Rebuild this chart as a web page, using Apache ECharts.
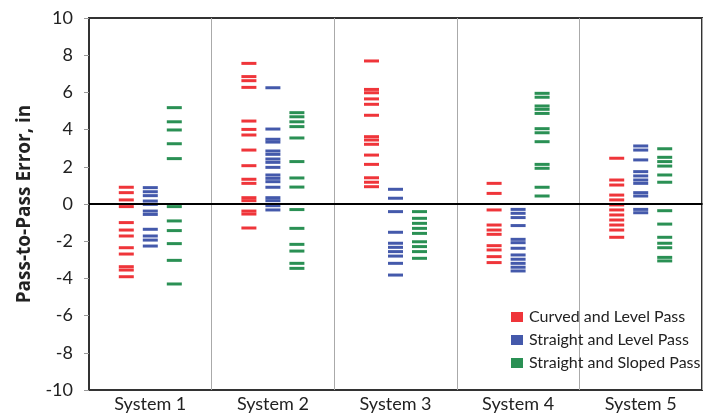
<!DOCTYPE html>
<html>
<head>
<meta charset="utf-8">
<script src="https://cdn.jsdelivr.net/npm/echarts@6/dist/echarts.min.js"></script>
<style>
html,body{margin:0;padding:0;background:#fff;}
#c{width:706px;height:415px;}
</style>
</head>
<body>
<div id="c"></div>
<script>
var categories = ['System 1', 'System 2', 'System 3', 'System 4', 'System 5'];
var seriesNames = ['Curved and Level Pass', 'Straight and Level Pass', 'Straight and Sloped Pass'];
var yTicks = [-10, -8, -6, -4, -2, 0, 2, 4, 6, 8, 10];

var curvedLevel = [
  [0.9, 0.61, 0.22, -0.14, -1.0, -1.4, -1.72, -2.35, -2.69, -3.37, -3.55, -3.91],
  [7.56, 6.85, 6.63, 6.27, 4.46, 4.01, 3.71, 2.9, 2.06, 1.33, 1.11, 0.34, 0.18, -0.38, -0.54, -1.29],
  [7.69, 6.16, 5.98, 5.65, 5.36, 4.77, 3.62, 3.44, 3.21, 2.63, 2.13, 1.41, 1.17, 0.93],
  [1.11, 0.57, -0.32, -1.13, -1.4, -1.63, -2.24, -2.47, -2.83, -3.15],
  [2.46, 1.29, 1.02, 0.48, 0.22, -0.05, -0.32, -0.59, -0.86, -1.13, -1.4, -1.79]
];
var straightLevel = [
  [0.88, 0.66, 0.45, 0.16, -0.02, -0.38, -0.56, -1.36, -1.72, -1.94, -2.26],
  [6.25, 4.03, 3.48, 3.33, 2.85, 2.67, 2.42, 2.24, 1.97, 1.56, 1.38, 1.2, 0.9, 0.34, 0.18, -0.09, -0.32],
  [0.79, 0.31, -0.41, -1.52, -2.11, -2.33, -2.56, -2.8, -3.19, -3.82],
  [-0.29, -0.5, -0.73, -1.16, -1.9, -2.08, -2.38, -2.74, -2.97, -3.19, -3.4, -3.6],
  [3.12, 2.9, 2.37, 1.74, 1.51, 1.29, 1.11, 0.61, 0.43, -0.29, -0.47]
];
var straightSloped = [
  [5.18, 4.42, 3.98, 3.24, 2.44, -0.14, -0.91, -1.43, -2.13, -3.03, -4.3],
  [4.91, 4.69, 4.42, 4.16, 3.55, 2.28, 1.4, 0.91, -0.3, -1.31, -2.17, -2.53, -3.19, -3.46],
  [-0.41, -0.77, -1.04, -1.31, -1.58, -2.03, -2.29, -2.56, -2.92],
  [5.95, 5.74, 5.27, 5.09, 4.87, 4.05, 3.83, 3.35, 2.13, 1.92, 0.9, 0.43],
  [2.97, 2.51, 2.28, 2.04, 1.56, 1.17, -0.36, -1.08, -1.79, -2.11, -2.35, -2.87, -3.06]
];

var allValues = [curvedLevel, straightLevel, straightSloped];
var colors = ['#ee2a2f', '#3a50a6', '#1f8a4b'];
var offsets = [-24, 0, 24];
var fontFam = 'Lato, "Open Sans", sans-serif';

function toPoints(groups) {
  var pts = [];
  groups.forEach(function (vals, i) {
    vals.forEach(function (v) { pts.push([categories[i], v]); });
  });
  return pts;
}

var series = allValues.map(function (groups, k) {
  var s = {
    name: seriesNames[k],
    type: 'scatter',
    symbol: 'rect',
    symbolSize: [15, 3],
    symbolOffset: [offsets[k], 0],
    itemStyle: { color: colors[k], opacity: 0.95 },
    data: toPoints(groups),
    silent: true
  };
  if (k === 2) {
    s.markLine = {
      silent: true,
      symbol: 'none',
      label: { show: false },
      lineStyle: { color: '#000', width: 2, type: 'solid' },
      data: [{ yAxis: 0 }],
      z: 10
    };
  }
  return s;
});

var chart = echarts.init(document.getElementById('c'));
chart.setOption({
  animation: false,
  backgroundColor: '#fff',
  grid: {
    left: 89, right: 4, top: 18, bottom: 25,
    show: true, borderColor: '#333', borderWidth: 2, backgroundColor: 'transparent'
  },
  legend: {
    orient: 'vertical',
    left: 511, top: 309,
    padding: 0,
    itemWidth: 12, itemHeight: 10, itemGap: 7,
    icon: 'rect',
    textStyle: { fontFamily: fontFam, fontSize: 16, color: '#222', padding: [0, 0, 0, 1] },
    data: seriesNames
  },
  xAxis: {
    type: 'category',
    data: categories,
    boundaryGap: true,
    axisLine: { show: true, lineStyle: { color: '#333', width: 2 } },
    axisTick: { show: false },
    splitLine: { show: true, lineStyle: { color: '#aaa', width: 1 } },
    axisLabel: { fontFamily: fontFam, fontSize: 18, color: '#222', margin: 5 }
  },
  yAxis: {
    type: 'value',
    min: yTicks[0], max: yTicks[yTicks.length - 1], interval: 2,
    name: 'Pass-to-Pass Error, in',
    nameLocation: 'middle',
    nameGap: 50,
    nameTextStyle: { fontFamily: 'Open Sans, sans-serif', fontWeight: 'bold', fontSize: 19, color: '#222' },
    axisLine: { show: true, lineStyle: { color: '#333', width: 2 } },
    axisTick: { show: true, length: 5, lineStyle: { color: '#999' } },
    splitLine: { show: false },
    axisLabel: { fontFamily: fontFam, fontSize: 18, color: '#222', margin: 16 }
  },
  series: series
});
</script>
</body>
</html>
